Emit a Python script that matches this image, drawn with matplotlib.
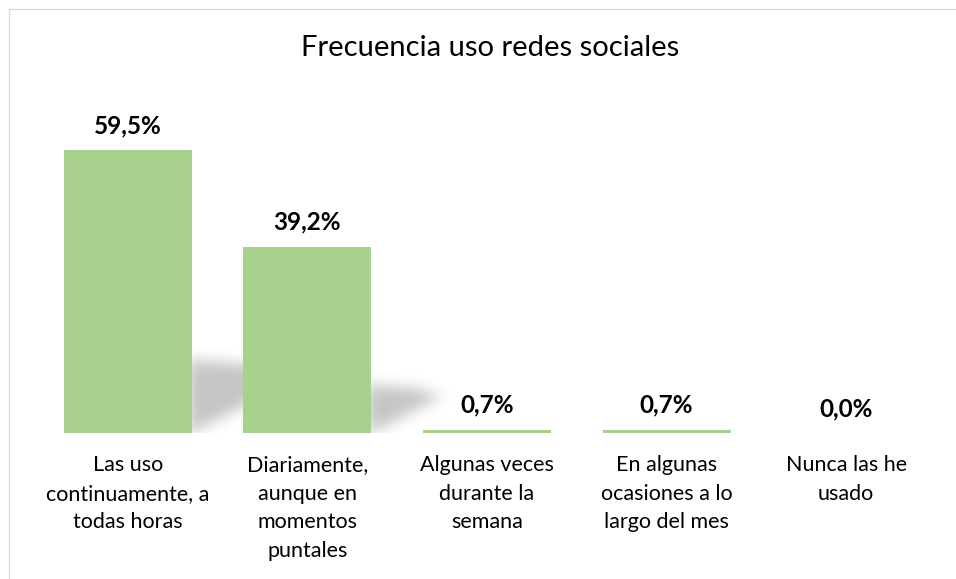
import matplotlib
matplotlib.use("Agg")
import matplotlib.pyplot as plt
from matplotlib.patches import Rectangle
from matplotlib.path import Path
import numpy as np

categories = ["Las uso\ncontinuamente, a\ntodas horas",
              "Diariamente,\naunque en\nmomentos\npuntales",
              "Algunas veces\ndurante la\nsemana",
              "En algunas\nocasiones a lo\nlargo del mes",
              "Nunca las he\nusado"]
values = [59.5, 39.2, 0.7, 0.7, 0.0]
labels = ["59,5%", "39,2%", "0,7%", "0,7%", "0,0%"]

FONT = ["Lato", "DejaVu Sans"]
bar_color = "#a9d18e"

fig = plt.figure(figsize=(9.56, 5.79), dpi=100)
fig.patch.set_facecolor("white")
fig.add_artist(Rectangle((9/956, -0.1), 1.2, 1 - 9/579 + 0.1, transform=fig.transFigure,
                         fill=False, edgecolor="#d9d9d9", linewidth=1.0))

ax = fig.add_axes([38/956, 1 - 433/579, (936 - 38)/956, (433 - 100)/579])
xmin, xmax, ymin, ymax = -0.5, 4.5, 0, 70
ax.set_xlim(xmin, xmax)
ax.set_ylim(ymin, ymax)
x = np.arange(len(values))
w = 0.713

# --- soft cast shadow (decoration derived from bar geometry) ---
W_px, H_px = 898, 333
sx = W_px / (xmax - xmin)   # px per x unit
sy = H_px / (ymax - ymin)   # px per y unit
gx, gy = np.meshgrid(np.arange(W_px) + 0.5, np.arange(H_px) + 0.5)
pts = np.column_stack([gx.ravel(), gy.ravel()])
mask = np.zeros(H_px * W_px)
for xi, v in zip(x, values):
    h = v * sy
    if h < 30:
        continue
    E = (xi + w / 2 - xmin) * sx
    T = 0.26 * h
    L = 0.40 * h
    poly = [(E - 4, 0), (E - 4, T), (E + L * 0.6, T * 0.92), (E + L, T * 0.72),
            (E + L, 0.54 * L * 0.95), (E, 0)]
    mask = np.maximum(mask, Path(poly).contains_points(pts).astype(float))
mask = mask.reshape(H_px, W_px)
sig = 7.0
kx = np.arange(-25, 26)
kern = np.exp(-kx ** 2 / (2 * sig ** 2))
kern /= kern.sum()
mask = np.apply_along_axis(lambda r: np.convolve(r, kern, mode="same"), 1, mask)
mask = np.apply_along_axis(lambda c: np.convolve(c, kern, mode="same"), 0, mask)
rgba = np.zeros((H_px, W_px, 4))
rgba[..., 3] = 0.23 * mask
ax.imshow(rgba, extent=(xmin, xmax, ymin, ymax), origin="lower", aspect="auto",
          zorder=1, interpolation="bilinear")
ax.set_xlim(xmin, xmax)
ax.set_ylim(ymin, ymax)

ax.bar(x, values, width=w, color=bar_color, zorder=3)
for xi, v, lab in zip(x, values, labels):
    ax.annotate(lab, (xi, v), xytext=(0, 17.5), textcoords="offset points",
                ha="center", va="center", fontsize=17.5, fontweight="bold",
                family=FONT, color="#000000")

for xi, cat in zip(x, categories):
    ax.annotate(cat, (xi, 0), xytext=(0, -16), textcoords="offset points",
                ha="center", va="top", fontsize=15.5, family=FONT,
                color="#000000", linespacing=1.53)

for s in ax.spines.values():
    s.set_visible(False)
ax.set_xticks([])
ax.set_yticks([])
ax.patch.set_alpha(0)

fig.text(490/956, 1 - 48/579, "Frecuencia uso redes sociales", ha="center", va="center",
         fontsize=21, family=FONT, color="#000000")

fig.savefig("out.png", dpi=100, facecolor="white")
